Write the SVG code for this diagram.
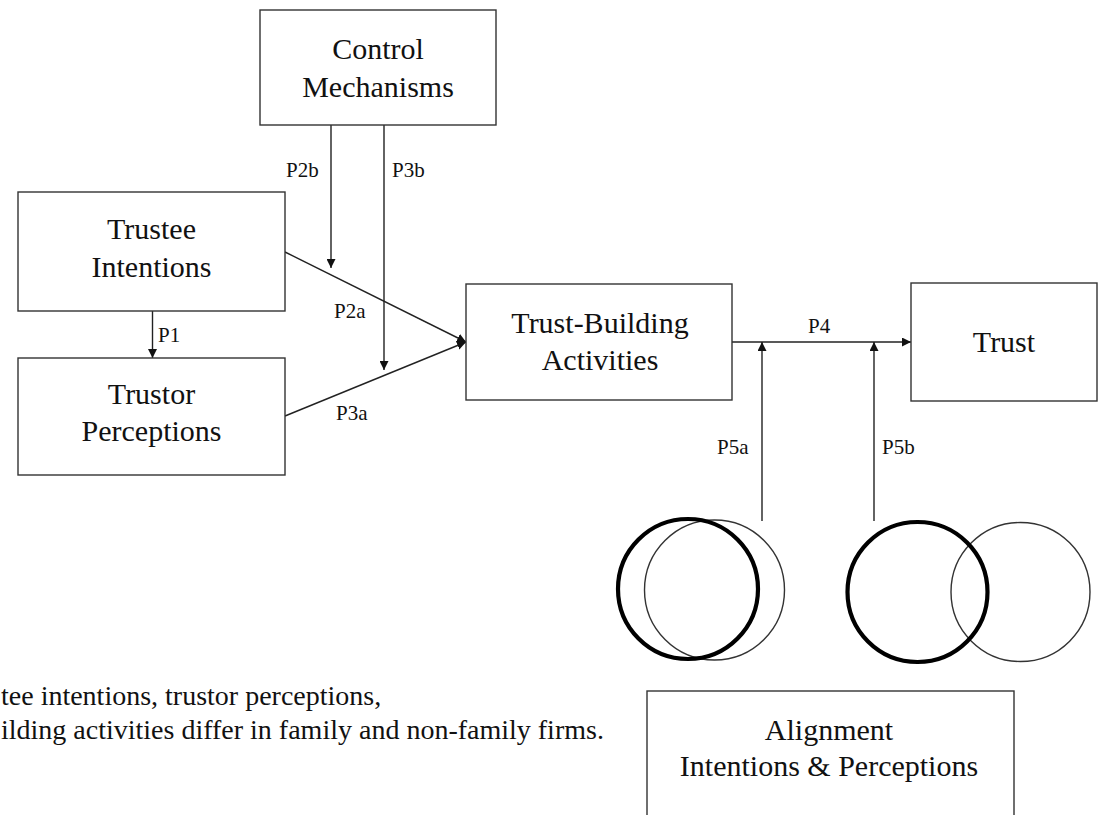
<svg xmlns="http://www.w3.org/2000/svg" width="1117" height="815" viewBox="0 0 1117 815">
<style>
.box{fill:#fff;stroke:#333;stroke-width:1.4}
.ln{stroke:#222;stroke-width:1.4;fill:none}
.thick{stroke:#000;stroke-width:4.2;fill:none}
.thin{stroke:#333;stroke-width:1.4;fill:none}
</style>
<defs>
<marker id="ah" viewBox="0 0 10 10" refX="10" refY="5" markerWidth="9" markerHeight="9" markerUnits="userSpaceOnUse" orient="auto">
<path d="M0,0 L10,5 L0,10 z" fill="#111"/>
</marker>
</defs>
<rect width="1117" height="815" fill="#fff"/>

<g id="connectors">
<line class="ln" x1="152.5" y1="311" x2="152.5" y2="358" marker-end="url(#ah)"/>
<line class="ln" x1="331" y1="125" x2="331" y2="268" marker-end="url(#ah)"/>
<line class="ln" x1="384" y1="125" x2="384" y2="370" marker-end="url(#ah)"/>
<line class="ln" x1="285" y1="252" x2="466" y2="342" marker-end="url(#ah)"/>
<line class="ln" x1="285" y1="416" x2="466" y2="342" marker-end="url(#ah)"/>
<line class="ln" x1="732" y1="342" x2="911" y2="342" marker-end="url(#ah)"/>
<line class="ln" x1="762" y1="521" x2="762" y2="342" marker-end="url(#ah)"/>
<line class="ln" x1="874" y1="521" x2="874" y2="342" marker-end="url(#ah)"/>
<g font-family="Liberation Serif, serif" font-size="21" fill="#111">
<text x="158" y="342">P1</text>
<text x="286" y="177">P2b</text>
<text x="392" y="177">P3b</text>
<text x="334" y="318">P2a</text>
<text x="336" y="420">P3a</text>
<text x="808" y="333">P4</text>
<text x="717" y="454">P5a</text>
<text x="882" y="454">P5b</text>
</g>
</g>

<g id="control" font-family="Liberation Serif, serif" font-size="30" fill="#111" text-anchor="middle">
<rect class="box" x="260" y="10" width="236" height="115"/>
<text x="378" y="59">Control</text>
<text x="378" y="97">Mechanisms</text>
</g>

<g id="trustee" font-family="Liberation Serif, serif" font-size="30" fill="#111" text-anchor="middle">
<rect class="box" x="18" y="192" width="267" height="119"/>
<text x="151.5" y="239">Trustee</text>
<text x="151.5" y="277">Intentions</text>
</g>

<g id="trustor" font-family="Liberation Serif, serif" font-size="30" fill="#111" text-anchor="middle">
<rect class="box" x="18" y="358" width="267" height="117"/>
<text x="151.5" y="404">Trustor</text>
<text x="151.5" y="441">Perceptions</text>
</g>

<g id="trust-building" font-family="Liberation Serif, serif" font-size="30" fill="#111" text-anchor="middle">
<rect class="box" x="466" y="284" width="266" height="116"/>
<text x="600" y="333">Trust-Building</text>
<text x="600" y="370">Activities</text>
</g>

<g id="trust" font-family="Liberation Serif, serif" font-size="30" fill="#111" text-anchor="middle">
<rect class="box" x="911" y="283" width="186" height="118"/>
<text x="1004" y="352">Trust</text>
</g>

<g id="circles-a">
<circle class="thin" cx="714.5" cy="590" r="70"/>
<circle class="thick" cx="688" cy="589" r="70"/>
</g>

<g id="circles-b">
<circle class="thin" cx="1020.5" cy="592" r="69.5"/>
<circle class="thick" cx="917.5" cy="592" r="70"/>
</g>

<g id="alignment" font-family="Liberation Serif, serif" font-size="30" fill="#111" text-anchor="middle">
<rect class="box" x="647" y="691" width="367" height="140"/>
<text x="829" y="740">Alignment</text>
<text x="829" y="776">Intentions &amp; Perceptions</text>
</g>

<g id="caption" font-family="Liberation Serif, serif" font-size="28" fill="#111">
<text x="1" y="705">tee intentions, trustor perceptions,</text>
<text x="1" y="739">ilding activities differ in family and non-family firms.</text>
</g>
</svg>
